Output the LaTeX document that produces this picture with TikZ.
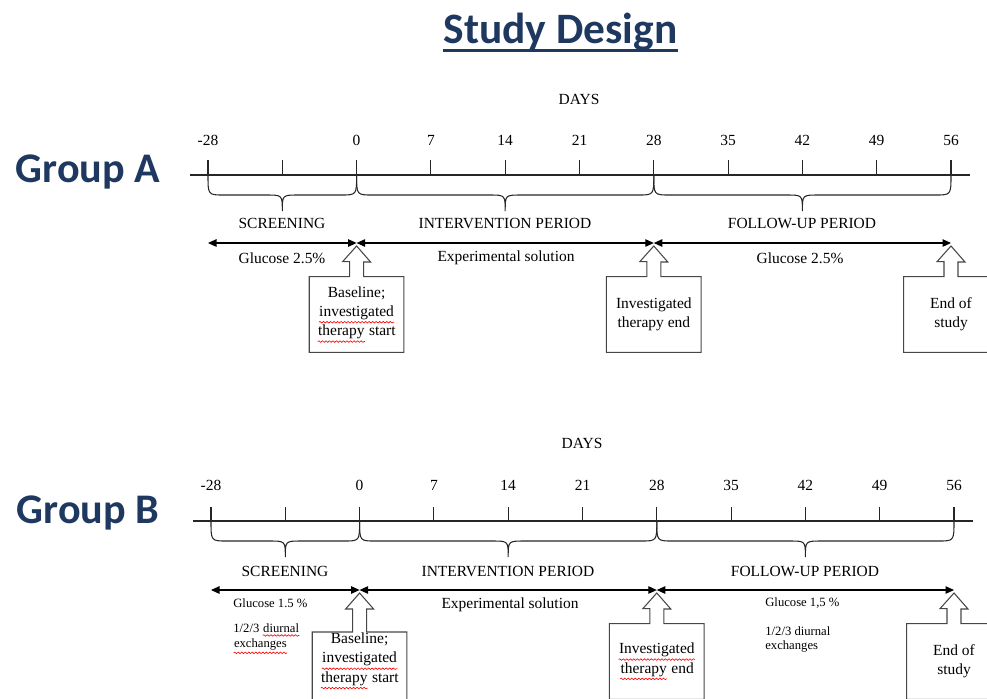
\documentclass[tikz,border=0pt]{standalone}
\usepackage{fontspec}
\setmainfont{Liberation Serif}
\newfontfamily\headfont{Carlito}
\usetikzlibrary{arrows.meta, decorations.pathmorphing}

\definecolor{titleblue}{RGB}{31,56,96}
\definecolor{boxgray}{RGB}{70,70,70}

% red wavy spell-check mark under a word
\newcommand{\spellwave}[1]{\tikz[baseline=(sw.base)]{\node[inner sep=0pt, minimum width=0pt, minimum height=0pt] (sw) {#1};
    \draw[red, line width=0.35pt, decorate, decoration={snake, amplitude=0.45pt, segment length=2pt}]
        ([yshift=-1.2pt]sw.south west) -- ([yshift=-1.2pt]sw.south east);}}

\tikzset{
  daytext/.style={font=\fontsize{8.8}{11}\selectfont, inner sep=0pt},
  smalltext/.style={font=\fontsize{7.2}{8.4}\selectfont, inner sep=0pt, align=left, anchor=west},
  axisline/.style={line width=0.6pt, black!85},
  bracel/.style={line width=0.6pt, black!85},
  dosearrow/.style={line width=0.6pt, {Triangle[length=0.17cm,width=0.15cm]}-{Triangle[length=0.17cm,width=0.15cm]}},
  boxtext/.style={font=\fontsize{8.8}{11}\selectfont, inner sep=0pt, align=center},
  callbox/.style={boxtext, minimum width=1.88cm, minimum height=1.5cm},
  callout/.style={line width=0.6pt, boxgray},
  grouplabel/.style={font=\headfont\bfseries\fontsize{24}{28}\selectfont, text=titleblue, inner sep=0pt},
}

\begin{document}
\begin{tikzpicture}[x=0.02cm, y=-0.02cm]
    \useasboundingbox (0,0) rectangle (987,698);
    \clip (0,0) rectangle (987,698);

    % Title
    \node[grouplabel, font=\headfont\bfseries\fontsize{24.7}{30}\selectfont, anchor=base] (title) at (560.5,43) {Study Design};
    \draw[titleblue, line width=1.7pt] ([yshift=-0.15cm]title.base west) -- ([yshift=-0.15cm]title.base east);

    % Group A (top)
    \begin{scope}
        \node[grouplabel, anchor=base] (groupA) at (88,182) {Group A};

        % Days axis
        \node[daytext] (daysA) at (579,99) {DAYS};
        \draw[axisline] (190,175) -- (970,175);
        \foreach \lab [count=\i from 0] in {-28,{},0,7,14,21,28,35,42,49,56} {
            \draw[axisline] (208+74.3*\i,160) -- (208+74.3*\i,175);
            \node[daytext] (dA\i) at (208+74.3*\i,140) {\lab};
        }

        % Period braces
        \foreach \xa/\xm/\xb in {208/282.3/356.6, 356.6/505.2/653.8, 653.8/802.4/951} {
            \draw[bracel] (\xa,175) .. controls (\xa,195) .. (\xa+16,195) -- (\xm-16,195)
                .. controls (\xm,195) .. (\xm,211) .. controls (\xm,195) .. (\xm+16,195)
                -- (\xb-16,195) .. controls (\xb,195) .. (\xb,175);
        }
        \node[daytext] (screenA) at (282,223) {SCREENING};
        \node[daytext] (interA) at (505,223) {INTERVENTION PERIOD};
        \node[daytext] (followA) at (802,223) {FOLLOW-UP PERIOD};

        % Solutions
        \coordinate (tA0) at (208,243);
        \coordinate (tA1) at (356.6,243);
        \coordinate (tA2) at (653.8,243);
        \coordinate (tA3) at (951,243);
        \draw[dosearrow] (tA0) -- (tA1);
        \draw[dosearrow] (tA1) -- (tA2);
        \draw[dosearrow] (tA2) -- (tA3);
        \node[daytext] (solA1) at (282,258) {Glucose 2.5\%};
        \node[daytext] (solA2) at (506,258) {Experimental solution};
        \node[daytext] (solA3) at (800,258) {Glucose 2.5\%};

        % Milestones
        \node[callbox] (baseA) at (356.6,314.5) {Baseline;\\\spellwave{investigated}\\\spellwave{therapy} start};
        \node[callbox] (invA) at (653.8,314.5) {Investigated\\therapy end};
        \node[callbox] (endA) at (951,314.5) {End of\\study};
        \foreach \bx/\tp/\sh in {baseA/tA1/15, invA/tA2/15, endA/tA3/15} {
            \draw[callout] (\bx.north west) -- ([xshift=-0.14cm]\bx.north) -- ++(0,-\sh) -- ++(-7,0)
                -- ([yshift=-0.06cm]\tp) -- ++(14,16) -- ++(-7,0) -- ([xshift=0.14cm]\bx.north)
                -- (\bx.north east) -- (\bx.south east) -- (\bx.south west) -- cycle;
        }
    \end{scope}

    % Group B (bottom)
    \begin{scope}[shift={(3,346)}]
        \node[grouplabel, anchor=base] (groupB) at (85,177) {Group B};

        % Days axis
        \node[daytext] (daysB) at (579,97) {DAYS};
        \draw[axisline] (190,175) -- (970,175);
        \foreach \lab [count=\i from 0] in {-28,{},0,7,14,21,28,35,42,49,56} {
            \draw[axisline] (208+74.3*\i,161) -- (208+74.3*\i,175);
            \node[daytext] (dB\i) at (208+74.3*\i,139) {\lab};
        }

        % Period braces
        \foreach \xa/\xm/\xb in {208/282.3/356.6, 356.6/505.2/653.8, 653.8/802.4/951} {
            \draw[bracel] (\xa,175) .. controls (\xa,195) .. (\xa+16,195) -- (\xm-16,195)
                .. controls (\xm,195) .. (\xm,211) .. controls (\xm,195) .. (\xm+16,195)
                -- (\xb-16,195) .. controls (\xb,195) .. (\xb,175);
        }
        \node[daytext] (screenB) at (282,225) {SCREENING};
        \node[daytext] (interB) at (505,225) {INTERVENTION PERIOD};
        \node[daytext] (followB) at (802,225) {FOLLOW-UP PERIOD};

        % Solutions
        \coordinate (tB0) at (208,244);
        \coordinate (tB1) at (356.6,244);
        \coordinate (tB2) at (653.8,244);
        \coordinate (tB3) at (951,244);
        \draw[dosearrow] (tB0) -- (tB1);
        \draw[dosearrow] (tB1) -- (tB2);
        \draw[dosearrow] (tB2) -- (tB3);
        \node[smalltext] (solB1) at (230,257) {Glucose 1.5 \%};
        \node[smalltext] (exchB1) at (230,293) {1/2/3 \spellwave{diurnal}\\\spellwave{exchanges}};
        \node[daytext] (solB2) at (507,259) {Experimental solution};
        \node[smalltext] (solB3) at (762,257) {Glucose 1,5 \%};
        \node[smalltext] (exchB3) at (762,293.5) {1/2/3 diurnal\\exchanges};

        % Milestones
        \node[callbox, anchor=north] (baseB) at (356.6,286) {};
        \node[boxtext] (baseBtext) at (356.6,315) {Baseline;\\\spellwave{investigated}\\\spellwave{therapy} start};
        \node[callbox] (invB) at (653.8,315.5) {\spellwave{Investigated}\\\spellwave{therapy} end};
        \node[callbox] (endB) at (951,315.5) {End of\\study};
        \foreach \bx/\tp/\sh in {baseB/tB1/23, invB/tB2/15, endB/tB3/15} {
            \draw[callout] (\bx.north west) -- ([xshift=-0.14cm]\bx.north) -- ++(0,-\sh) -- ++(-7,0)
                -- ([yshift=-0.06cm]\tp) -- ++(14,16) -- ++(-7,0) -- ([xshift=0.14cm]\bx.north)
                -- (\bx.north east) -- (\bx.south east) -- (\bx.south west) -- cycle;
        }
    \end{scope}

\end{tikzpicture}
\end{document}
